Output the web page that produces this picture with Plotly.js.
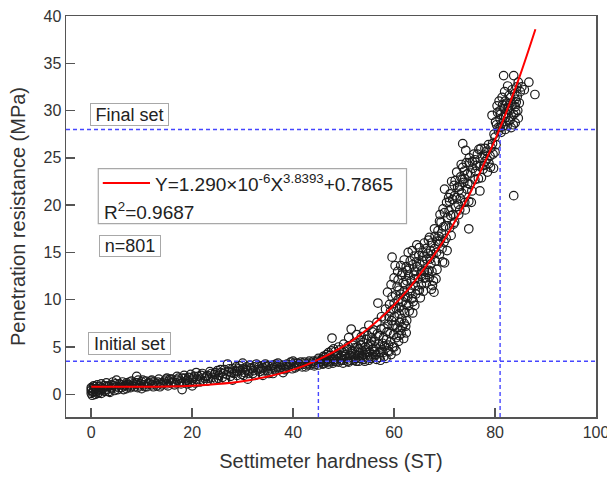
<!DOCTYPE html>
<html>
<head>
<meta charset="utf-8">
<script src="https://cdn.plot.ly/plotly-3.0.1.min.js"></script>
<style>
html,body{margin:0;padding:0;background:#fff;}
#chart{width:607px;height:478px;}
</style>
</head>
<body>
<div id="chart"></div>
<script>
// Observations [settimeter hardness ST, penetration resistance MPa]
const dormantStage = [
[0,0.1],[0,0.4],[0,0.7],[0.2,-0.1],[0.3,0.2],[0.5,0.5],[0.5,0.9],[0.8,0.0],[1,0.3],[1,0.6],[1.2,1.0],[1.5,0.2],[1.5,0.8],[1.8,0.4],[2,1.1],[2,0.1],[2.3,0.6],[2.5,0.9],[2.8,0.3],[3,1.2],[3,0.5],[3.4,0.8],[3.7,0.2],[4,1.0],[4,0.6],[4.3,1.3],[4.6,0.4],[5,1.5],[5,0.8],[5.3,0.5],[5.6,1.1],[6,0.7],[6.2,1.3],[6.5,0.9],[7,0.6],[7,1.2],[7.4,1.0],[7.8,0.7],[8,1.4],[8.3,1.1],[8.6,0.8],[9,1.9],[9,1.2],[9.3,1.5],[9.6,0.9],[10,1.3],[10,0.6],[10.4,1.0],[10.8,1.4],[11,0.8],[11.5,1.2],[12,1.0],[12,1.5],[12.5,1.3],[13,0.9],[13.4,1.6],[13.8,1.2],[14,1.0],[14.5,1.4],[15,1.7],[15,1.1],[15.4,1.4],[15.8,1.2],[16,1.6],[16.5,1.0],[17,1.5],[17,1.9],[17.5,1.3],[18,0.5],[18,1.7],[18.4,2.0],[18.8,1.4],[19,1.1],[19.3,1.8],[19.7,2.1],[20,1.5],[20,0.9],[20.4,1.9],[20.8,2.3],[21,1.6],[21.5,1.3],[21.8,2.0],[22,2.2],[22.5,1.7],[23,2.0],[23,1.4],[23.5,2.4],[24,1.8],[24.4,2.1],[24.8,1.6],[25,2.5],[25.3,2.0],[25.7,2.3],[26,1.8],[26.4,2.6],[26.8,2.1],[27,3.2],[27.2,2.4],[27.6,1.9],[28,2.7],[28,1.5],[28.3,2.2],[28.7,2.9],[29,2.4],[29.4,3.0],[29.8,2.1],[30,2.7],[30,3.3],[30.4,2.3],[30.8,2.9],[31,2.5],[31,1.6],[31.4,3.1],[31.8,2.7],[32,2.2],[32.3,2.9],[32.7,3.2],[33,2.6],[33.4,2.4],[33.8,3.0],[34,2.8],[34,2.0],[34.5,3.2],[35,2.5],[35,3.0],[35.5,2.7],[36,3.1],[36,2.2],[36.4,2.6],[36.8,2.9],[37,3.3],[37.5,2.8],[38,3.0],[38,2.3],[38.4,2.6],[38.8,3.2],[39,2.9],[39.5,3.4],[40,3.1],[40,3.5],[40.4,2.8],[40.8,3.3],[41,3.0],[41.5,3.4],[42,3.2],[42.5,2.9],[43,3.3],[43.4,3.1],[44,3.5],[44.4,3.2],[44.8,3.6],[45,3.1],[45,3.8],[45.3,3.4],
[0.1,0.6],[0.4,0.3],[0.7,0.8],[0.9,0.5],[1.3,0.1],[1.6,0.5],[2.1,0.7],[2.6,0.4],[3.2,0.9],[3.5,0.3],[3.9,0.7],[4.4,0.9],[4.8,1.1],[5.5,0.7],[5.9,1.0],[6.4,0.5],[6.8,1.0],[7.2,0.8],[7.6,1.3],[8.1,0.9],[8.8,1.2],[9.2,0.7],[9.8,1.1],[10.2,1.5],[10.6,0.8],[11.2,1.1],[11.8,1.4],[12.3,0.8],[12.8,1.1],[13.2,1.3],[13.6,0.8],[14.2,1.2],[14.8,1.6],[15.2,0.9],[15.6,1.6],[16.2,1.3],[16.8,1.2],[17.3,1.7],[17.8,1.1],[18.2,1.3],[18.6,1.7],[19.1,1.5],[19.5,1.2],[20.2,1.7],[20.6,1.2],[21.2,1.9],[21.6,1.6],[22.2,1.4],[22.8,1.9],[23.3,1.7],[23.8,2.2],[24.2,1.5],[24.6,2.3],[25.2,1.7],[25.6,2.6],[26.2,2.2],[26.6,1.6],[27.4,2.7],[27.8,2.3],[28.5,2.5],[28.9,2.0],[29.2,2.7],[29.6,2.5],[30.2,2.0],[30.6,2.6],[31.2,2.2],[31.6,2.8],[32.1,2.5],[32.5,2.0],[33.2,2.9],[33.6,2.7],[34.2,2.5],[34.7,2.9],[35.2,2.2],[35.8,3.0],[36.2,2.8],[36.6,3.2],[37.2,2.6],[37.8,3.1],[38.2,2.7],[38.6,2.9],[39.2,3.1],[39.8,2.7],[40.2,3.3],[40.6,3.0],[41.2,3.2],[41.8,2.9],[42.2,3.4],[42.8,3.1],[43.2,3.5],[43.7,3.3],[44.2,3.0],[44.6,3.4]
];
const settingStage = [
[45.5,3.5],[46,3.3],[46,4.0],[46.2,3.9],[46.5,3.6],[46.8,3.4],[47,3.2],[47,4.4],[47.3,4.1],[47.5,3.8],[47.7,5.95],[48,3.5],[48,4.8],[48.2,3.7],[48.5,4.1],[48.8,4.3],[49,3.4],[49,5.0],[49.3,3.9],[49.5,3.6],[49.7,4.5],[50,3.6],[50,5.3],[50.2,4.0],[50.3,4.2],[50.7,4.8],[50.8,3.5],[51,3.4],[51,6.0],[51.3,3.9],[51.5,6.9],[51.6,4.3],[51.7,4.6],[52,3.6],[52,5.4],[52.3,4.2],[52.4,3.8],[52.6,6.3],[53,3.5],[53,4.8],[53.1,4.4],[53.3,5.7],[53.6,4.1],[53.8,3.9],[54,3.7],[54,6.6],[54.3,5.0],[54.4,4.7],[54.6,4.4],[55,3.6],[55,7.3],[55.2,4.0],[55.3,5.3],[55.6,6.0],[55.8,4.2],[55.9,4.8],[56,3.9],[56,6.8],[56.3,5.0],[56.5,3.7],[56.6,7.6],[56.8,9.65],[57,4.4],[57,6.2],[57.2,5.0],[57.3,3.6],[57.5,8.2],[57.7,5.4],[57.8,4.4],[58,4.0],[58,7.0],[58.3,9.0],[58.4,3.8],[58.5,5.8],[58.6,6.6],[58.7,10.8],[58.9,5.2],[59,4.5],[59,8.2],[59.1,9.5],[59.2,6.4],[59.4,11.6],[59.4,4.2],[59.5,7.8],[59.6,14.5],[59.8,7.3],[59.9,6.3],[60,5.0],[60,9.6],[60,12.3],[60.1,8.2],[60.3,10.5],[60.4,4.6],[60.5,6.0],[60.6,11.4],[60.7,13.0],[60.9,5.6],[61,8.5],[61,11.0],[61.1,9.2],[61.2,6.8],[61.3,13.6],[61.4,6.4],[61.5,12.6],[61.7,9.8],[61.8,11.8],[61.9,5.9],[62,7.5],[62,14.2],[62.1,8.6],[62.2,10.3],[62.4,6.5],
[45.7,3.7],[45.9,3.2],[46.3,3.5],[46.6,4.2],[46.9,3.7],[47.2,3.5],[47.6,4.6],[47.9,3.3],[48.3,4.5],[48.6,3.5],[48.9,3.8],[49.2,4.7],[49.6,4.1],[49.9,3.3],[50.1,4.6],[50.5,3.8],[50.9,5.1],[51.2,4.1],[51.4,3.6],[51.8,5.2],[52.1,4.0],[52.2,4.9],[52.5,3.5],[52.8,5.0],[52.9,4.1],[53.2,3.8],[53.4,5.2],[53.5,6.1],[53.7,4.6],[53.9,5.5],[54.1,4.2],[54.2,3.5],[54.5,5.8],[54.7,3.9],[54.8,6.2],[54.9,5.1],[55.1,4.5],[55.4,3.8],[55.5,5.6],[55.7,6.6],[56.1,4.5],[56.2,5.6],[56.4,4.2],[56.7,6.4],[56.9,5.3],[57.1,3.9],[57.4,6.9],[57.6,4.7],[57.9,6.0],[58.1,5.1],[58.2,8.0],[58.8,4.6],[58.8,7.4],[59.3,5.6],[59.3,8.8],[59.6,10.3],[59.7,5.0],[59.9,9.0],[60.2,7.3],[60.2,13.6],[60.4,9.1],[60.6,7.0],[60.8,10.0],[60.8,12.1],[61.0,6.2],[61.1,7.6],[61.3,10.6],[61.5,8.0],[61.6,7.1],[61.7,12.9],[61.8,8.9],[62.0,10.9],[62.2,11.6],[62.3,7.2],[62.4,9.5],[62.4,13.5]
];
const hardeningStage = [
[62.5,7.8],[62.5,12.0],[62.6,13.1],[62.8,15.0],[62.9,9.4],[63,8.8],[63,13.3],[63.2,14.1],[63.3,11.2],[63.5,10.1],[63.6,15.2],[63.8,9.8],[63.9,12.6],[64,12.2],[64,14.6],[64.2,11.5],[64.3,10.6],[64.5,15.8],[64.6,13.5],[64.8,12.2],[65,11.0],[65,15.5],[65.1,13.7],[65.3,12.7],[65.4,11.6],[65.6,14.1],[65.7,15.0],[65.8,10.9],[66,13.0],[66,16.0],[66.2,12.3],[66.4,11.8],[66.5,14.3],[66.7,14.9],[66.9,13.1],[67,12.4],[67,16.6],[67.2,15.2],[67.3,13.8],[67.4,11.1],[67.5,13.0],[67.6,11.5],[67.8,12.0],[67.9,10.8],[68,15.4],[68,17.5],[68.2,14.1],[68.3,12.2],[68.5,13.2],[68.6,16.2],[68.8,15.9],[69,14.8],[69,18.3],[69.2,16.3],[69.4,17.0],[69.5,15.4],[69.6,14.0],[69.8,17.7],[70,13.9],[70,19.2],[70,21.7],[70.3,16.5],[70.6,18.7],[70.8,20.8],[71,20.4],[71,17.6],[71.2,18.9],[71.4,22.5],[71.7,19.0],[71.9,22.1],[72,21.0],[72,18.2],[72.2,19.8],[72.4,23.5],[72.7,20.1],[72.9,21.6],[73,22.0],[73,19.5],[73.2,23.0],[73.4,21.3],[73.6,24.0],[73.6,26.5],[73.8,22.4],[74,22.8],[74,20.3],[74.1,19.5],[74.2,25.8],[74.4,21.7],[74.5,23.3],[74.8,17.5],[74.8,20.4],[75,22.2],[75,24.5],[75.3,20.3],[75.5,24.6],[75.6,23.9],[76,24.8],[76,22.7],[76.2,23.6],[76.5,25.4],[76.8,25.9],[77,24.1],[77,21.5],[77.3,22.9],[77.5,25.0],[77.8,24.2],[78,24.6],[78,26.0],[78.3,25.7],[78.5,23.5],[78.8,24.4],[79,25.2],[79.2,26.1],[79.4,29.5],[79.6,25.4],[79.7,23.9],[80,25.6],[80,27.2],[80.3,28.5],[80.5,29.8],[80.7,27.8],[81,28.2],[81,30.0],[81,29.1],[81.3,28.6],[81.5,30.6],[81.7,33.7],[81.7,29.4],[82,28.0],[82,31.0],[82.2,29.7],[82.4,28.4],[82.6,30.3],[82.7,30.5],[82.8,31.6],[83,29.0],[83,30.8],[83.2,28.2],[83.4,32.2],[83.7,33.7],[83.7,29.6],[83.7,21.0],[84,30.4],[84,31.2],[84,28.7],[84.3,32.5],[84.5,30.0],[85.3,32.5],[86.7,33.0],[87.9,31.7],
[62.7,10.2],[62.9,12.6],[63.1,10.7],[63.4,12.0],[63.7,8.6],[63.7,13.7],[64.1,9.4],[64.1,13.0],[64.4,14.0],[64.7,11.0],[64.9,14.7],[65.2,10.2],[65.5,13.1],[65.9,12.3],[65.9,14.6],[66.3,15.4],[66.6,12.9],[66.8,16.3],[67.1,14.3],[67.4,16.0],[67.7,14.8],[68.1,16.7],[68.4,15.0],[68.7,17.3],[68.9,16.7],[69.1,19.0],[69.3,18.2],[69.7,19.6],[69.9,16.1],[70.2,17.8],[70.4,20.3],[70.5,15.2],[70.9,19.4],[71.1,21.2],[71.3,16.8],[71.6,20.6],[71.8,18.0],[72.1,22.6],[72.3,20.8],[72.6,21.9],[72.8,19.0],[73.1,20.7],[73.3,24.3],[73.5,22.7],[73.9,23.6],[74.3,24.5],[74.6,22.3],[74.9,25.0],[75.2,23.4],[75.4,21.5],[75.8,25.4],[76.3,24.2],[76.7,22.8],[77.2,26.0],[77.6,23.8],[77.9,25.3],[78.4,24.9],[78.7,26.4],[79.1,24.0],[79.5,26.5],[79.8,27.5],[80.1,28.8],[80.2,26.4],[80.4,30.5],[80.6,28.2],[80.8,31.0],[81.1,29.6],[81.2,27.7],[81.4,31.4],[81.6,28.4],[81.8,30.2],[81.9,32.0],[82.1,29.3],[82.3,30.8],[82.5,32.6],[82.7,28.9],[82.9,30.0],[83.1,31.4],[83.3,29.4],[83.5,30.6],[83.6,28.5],[83.9,31.8],[84.1,29.8],[84.2,30.9],[84.4,31.5],[84.6,29.2],[84.8,30.8],[85.0,32.0],[84.6,33.0],[85.8,32.2]
];
// Fitted power curve
const fitST  = [0,5,10,15,20,25,30,35,37.5,40,42.5,45,47.5,50,52.5,55,57.5,60,62.5,65,67.5,70,72.5,75,77.5,80,82.5,85,88];
const fitMPa = [0.79,0.79,0.80,0.83,0.91,1.09,1.39,1.88,2.21,2.61,3.09,3.66,4.32,5.09,5.97,7.0,8.15,9.45,10.9,12.6,14.4,16.4,18.7,21.2,24.0,26.9,30.2,33.8,38.6];
// Set thresholds
const initialSetMPa = 3.5, finalSetMPa = 28;
const initialSetST = 45, finalSetST = 81;
// Axes
const xRange = [-5, 100];
const yRange = [-2.4, 40];
const xTickVals = [0, 20, 40, 60, 80, 100];
const yTickVals = [0, 5, 10, 15, 20, 25, 30, 35, 40];
// Texts
const fitLabel = 'Y=1.290×10<sup>-6</sup>X<sup>3.8393</sup>+0.7865';
const r2Label = 'R<sup>2</sup>=0.9687';
const nLabel = 'n=801';
const initialSetLabel = 'Initial set';
const finalSetLabel = 'Final set';

const FONT = 'Liberation Sans, Arial, Helvetica, sans-serif';
const obs = dormantStage.concat(settingStage, hardeningStage);

const traces = [
  {
    type: 'scatter', mode: 'markers',
    x: obs.map(p => p[0]), y: obs.map(p => p[1]),
    marker: {symbol: 'circle-open', size: 8.5, color: '#1c1c1c', line: {width: 1.2}},
    showlegend: false, name: 'observations'
  },
  {
    type: 'scatter', mode: 'lines',
    x: fitST, y: fitMPa,
    line: {color: '#ff0000', width: 2, shape: 'spline'},
    showlegend: false, name: 'fit'
  }
];

const DASH_BLUE = 'rgb(70,70,255)';
function dashLine() { return {color: DASH_BLUE, width: 1.4, dash: '4px,3px'}; }
function boxStyle(extra) {
  return Object.assign({bordercolor: '#a8a8a8', borderwidth: 1, bgcolor: '#ffffff', borderpad: 1,
    font: {family: FONT, size: 18, color: '#222'}, showarrow: false,
    xref: 'paper', yref: 'paper', xanchor: 'center', yanchor: 'middle'}, extra);
}

const layout = {
  width: 607, height: 478,
  margin: {l: 66, r: 11, t: 16, b: 61, pad: 0},
  paper_bgcolor: '#fff', plot_bgcolor: '#fff',
  font: {family: FONT, color: '#333'},
  xaxis: {
    range: xRange, tickvals: xTickVals, ticks: 'inside', ticklen: 9, tickwidth: 1.5, tickcolor: '#555',
    showline: true, linecolor: '#555', linewidth: 1.5, mirror: true,
    showgrid: false, zeroline: false, ticklabeloverflow: 'allow',
    tickfont: {family: FONT, size: 16, color: '#333'},
    title: {text: 'Settimeter hardness (ST)', font: {family: FONT, size: 20, color: '#333'}, standoff: 14}
  },
  yaxis: {
    range: yRange, tickvals: yTickVals, ticks: 'inside', ticklen: 9, tickwidth: 1.5, tickcolor: '#555',
    showline: true, linecolor: '#555', linewidth: 1.5, mirror: true,
    showgrid: false, zeroline: false,
    tickfont: {family: FONT, size: 16, color: '#333'},
    title: {text: 'Penetration resistance (MPa)', font: {family: FONT, size: 20, color: '#333'}, standoff: 12}
  },
  shapes: [
    {type: 'line', xref: 'x', yref: 'y', x0: xRange[0], x1: xRange[1], y0: initialSetMPa, y1: initialSetMPa, line: dashLine()},
    {type: 'line', xref: 'x', yref: 'y', x0: xRange[0], x1: xRange[1], y0: finalSetMPa, y1: finalSetMPa, line: dashLine()},
    {type: 'line', xref: 'x', yref: 'y', x0: initialSetST, x1: initialSetST, y0: yRange[0], y1: initialSetMPa, line: dashLine()},
    {type: 'line', xref: 'x', yref: 'y', x0: finalSetST, x1: finalSetST, y0: yRange[0], y1: finalSetMPa, line: dashLine()},
    // equation legend box
    {type: 'rect', xref: 'paper', yref: 'paper', x0: 0.0609, x1: 0.6425, y0: 0.4823, y1: 0.6195,
     line: {color: '#a8a8a8', width: 1.2}, fillcolor: '#ffffff', layer: 'above'},
    {type: 'line', xref: 'paper', yref: 'paper', x0: 0.0694, x1: 0.1585, y0: 0.5835, y1: 0.5835,
     line: {color: '#ff0000', width: 2}, layer: 'above'}
  ],
  annotations: [
    boxStyle({text: finalSetLabel, x: 0.1198, y: 0.7554, width: 75, height: 19}),
    boxStyle({text: initialSetLabel, x: 0.1202, y: 0.1838, width: 79, height: 19}),
    boxStyle({text: nLabel, x: 0.1202, y: 0.4269, width: 58, height: 18}),
    {text: fitLabel, xref: 'paper', yref: 'paper', x: 0.164, y: 0.5835, xanchor: 'left', yanchor: 'middle',
     showarrow: false, font: {family: FONT, size: 19, color: '#222'}},
    {text: r2Label, xref: 'paper', yref: 'paper', x: 0.068, y: 0.5147, xanchor: 'left', yanchor: 'middle',
     showarrow: false, font: {family: FONT, size: 19, color: '#222'}}
  ]
};

Plotly.newPlot('chart', traces, layout, {displayModeBar: false, staticPlot: true});
</script>
</body>
</html>
